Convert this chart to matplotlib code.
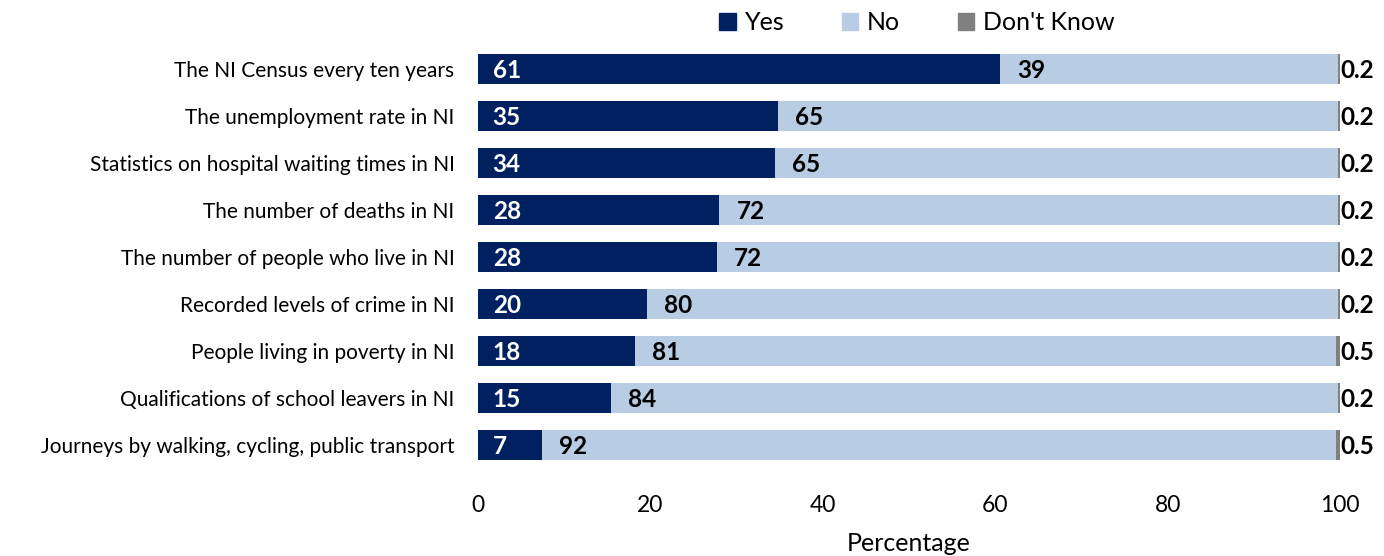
import matplotlib
matplotlib.use("Agg")
import matplotlib.pyplot as plt
from matplotlib.patches import Patch

plt.rcParams['font.family'] = ['Lato', 'DejaVu Sans']

categories = [
    "The NI Census every ten years",
    "The unemployment rate in NI",
    "Statistics on hospital waiting times in NI",
    "The number of deaths in NI",
    "The number of people who live in NI",
    "Recorded levels of crime in NI",
    "People living in poverty in NI",
    "Qualifications of school leavers in NI",
    "Journeys by walking, cycling, public transport",
]
yes = [60.6, 34.8, 34.4, 28.0, 27.7, 19.6, 18.2, 15.4, 7.4]
no = [39.2, 65.0, 65.4, 71.8, 72.1, 80.2, 81.3, 84.4, 92.1]
dont_know = [0.2, 0.2, 0.2, 0.2, 0.2, 0.2, 0.5, 0.2, 0.5]
series_names = ["Yes", "No", "Don't Know"]
x_ticks = [0, 20, 40, 60, 80, 100]

c_yes = "#002060"
c_no = "#B8CCE4"
c_dk = "#808080"

fig = plt.figure(figsize=(13.84, 5.56), dpi=100)
ax = fig.add_axes([478 / 1384, 1 - 468.5 / 556, (1340 - 478) / 1384, 423 / 556])

y = list(range(len(categories)))
h = 0.64
ax.barh(y, yes, height=h, color=c_yes)
ax.barh(y, no, left=yes, height=h, color=c_no)
left_dk = [a + b for a, b in zip(yes, no)]
ax.barh(y, dont_know, left=left_dk, height=h, color=c_dk)

lbl = dict(fontsize=17.5, fontweight="bold", ha="left", va="center")
for i in y:
    ax.text(1.7, i + 0.04, f"{yes[i]:.0f}", color="white", **lbl)
    ax.text(yes[i] + 2.0, i + 0.04, f"{no[i]:.0f}", color="black", **lbl)
    ax.text(left_dk[i] + dont_know[i] + 0.1, i + 0.04, f"{dont_know[i]:.1f}",
            color="black", **lbl)

ax.set_xlim(0, 100)
ax.set_ylim(len(categories) - 0.5, -0.5)
ax.set_yticks(y)
ax.set_yticklabels(categories, fontsize=15)
ax.set_xticks(x_ticks)
ax.set_xticklabels([str(t) for t in x_ticks], fontsize=16.5)
ax.tick_params(axis="y", length=0, pad=17)
ax.tick_params(axis="x", length=0, pad=19)
for s in ax.spines.values():
    s.set_visible(False)

fig.text(909 / 1384, 1 - 551 / 556, "Percentage", fontsize=18, ha="center", va="baseline")

handles = [Patch(color=c) for c in (c_yes, c_no, c_dk)]
fig.legend(handles, series_names, loc="center", bbox_to_anchor=(917 / 1384, 1 - 23 / 556),
           ncol=3, frameon=False, fontsize=18, handlelength=0.65, handleheight=0.65,
           handletextpad=0.36, columnspacing=2.3)

fig.savefig("out.png", dpi=100)
